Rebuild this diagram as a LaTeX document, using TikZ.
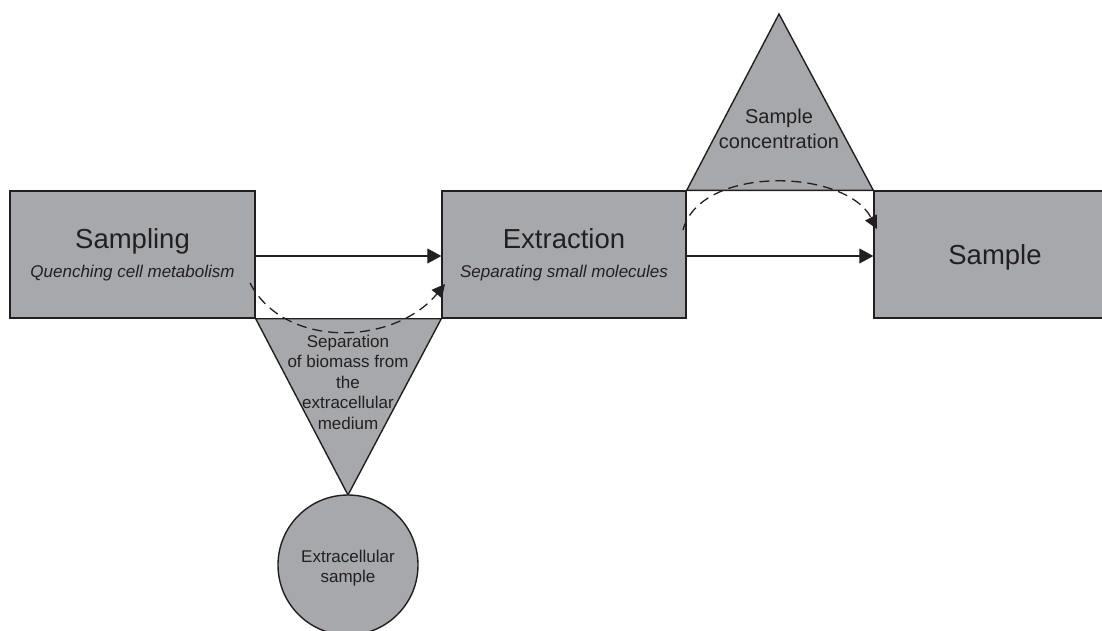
\documentclass[tikz,border=0pt]{standalone}
\usepackage{fontspec}
\setmainfont{Liberation Sans}
\usetikzlibrary{arrows.meta}
\definecolor{fillg}{HTML}{A7A8AB}
\definecolor{ink}{HTML}{231F20}
\begin{document}
\begin{tikzpicture}[x=1pt,y=-1pt,
  shapeline/.style={draw=ink,line width=1.4pt,fill=fillg,line join=miter},
  box/.style={shapeline,minimum width=#1,minimum height=127pt,inner sep=0pt},
  bigtxt/.style={text=ink,inner sep=0pt,anchor=base,font=\fontsize{27.5}{31}\selectfont},
  subtxt/.style={text=ink,inner sep=0pt,anchor=base,font=\fontsize{17}{20}\selectfont\itshape},
  smalltxt/.style={text=ink,inner sep=0pt,anchor=base,align=center},
  flow/.style={draw=ink,line width=1.2pt,-{Triangle[length=14pt,width=15pt]}},
  altflow/.style={draw=ink,line width=1.3pt,dash pattern=on 10pt off 6pt,-{Triangle[length=13pt,width=13pt]}}
]
\useasboundingbox (0,0) rectangle (1102,630);

% boxes
\node[box=245pt] (samp) at (132.5,254.5) {};
\node[box=244pt] (extr) at (564,254.5) {};
\node[box=242pt] (smpl) at (995,254.5) {};

% triangles
\coordinate (tdown) at (348,495);
\coordinate (tup) at (779,14);
\path[shapeline] (samp.south east) -- (extr.south west) -- (tdown) -- cycle;
\path[shapeline] (extr.north east) -- (smpl.north west) -- (tup) -- cycle;

% circle
\node[shapeline,circle,minimum size=140pt,inner sep=0pt] (circ) at (348,565) {};

% texts
\node[bigtxt] (sampT) at (132.5,248) {Sampling};
\node[subtxt] (sampS) at (132.5,277) {Quenching cell metabolism};
\node[bigtxt] (extrT) at (564,248) {Extraction};
\node[subtxt] (extrS) at (564,277) {Separating small molecules};
\node[bigtxt] (smplT) at (995,264) {Sample};
\node[smalltxt,font=\fontsize{17}{20.5}\selectfont] (sepT) at (348,429)
  {Separation\\of biomass from\\the\\extracellular\\medium};
\node[smalltxt,font=\fontsize{20}{25}\selectfont] (concT) at (779,148)
  {Sample\\concentration};
\node[smalltxt,font=\fontsize{17}{19.5}\selectfont] (circT) at (348,582)
  {Extracellular\\sample};

% solid arrows
\draw[flow] (samp.east |- 0,256) -- (extr.west |- 0,256);
\draw[flow] (extr.east |- 0,256) -- (smpl.west |- 0,256);

% dashed arrows
\coordinate (d1s) at (250,283);
\coordinate (d1e) at (445,284);
\coordinate (d2s) at (683,230);
\coordinate (d2e) at (877,229);
\draw[altflow] (d1s) .. controls (285,350) and (395,345) .. (d1e);
\draw[altflow] (d2s) .. controls (700,165) and (845,168) .. (d2e);
\end{tikzpicture}
\end{document}
